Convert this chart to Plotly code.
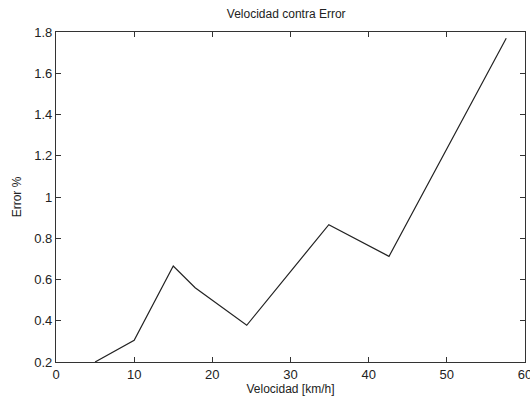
import plotly.graph_objects as go

velocidad = [5, 10, 15, 17.8, 24.4, 34.9, 42.6, 57.6]
error = [0.2, 0.305, 0.665, 0.56, 0.378, 0.866, 0.712, 1.77]

x_ticks = [0, 10, 20, 30, 40, 50, 60]
y_ticks = [0.2, 0.4, 0.6, 0.8, 1.0, 1.2, 1.4, 1.6, 1.8]
y_labels = ["0.2", "0.4", "0.6", "0.8", "1", "1.2", "1.4", "1.6", "1.8"]

FONT = "Liberation Sans, Arial"

fig = go.Figure()
fig.add_trace(go.Scatter(x=velocidad, y=error, mode="lines",
                         line=dict(color="#222222", width=1.2),
                         showlegend=False))

axis_common = dict(showgrid=False, zeroline=False, showline=True, linecolor="#333333",
                   linewidth=1.2, mirror="ticks", ticks="inside", ticklen=5,
                   tickcolor="#333333", tickwidth=1.2, automargin=False,
                   ticklabeloverflow="allow",
                   tickfont=dict(family=FONT, size=13, color="#222222"))

fig.update_layout(
    width=530, height=396,
    margin=dict(l=56, r=5, t=32, b=34),
    paper_bgcolor="white", plot_bgcolor="white",
    title=dict(text="Velocidad contra Error", x=0.54, xanchor="center", y=0.965, yanchor="middle",
               font=dict(family=FONT, size=12, color="#222222")),
    xaxis=dict(range=[0, 60], tickvals=x_ticks, ticktext=[str(t) for t in x_ticks],
               title=dict(text="Velocidad [km/h]", standoff=1,
                          font=dict(family=FONT, size=12, color="#222222")),
               **axis_common),
    yaxis=dict(range=[0.2, 1.8], tickvals=y_ticks, ticktext=y_labels,
               title=dict(text="Error %", standoff=10,
                          font=dict(family=FONT, size=12, color="#222222")),
               **axis_common),
)

fig.write_html("out.html", config={"displayModeBar": False},
               post_script="document.body.style.margin='0';document.body.style.overflow='hidden';")
